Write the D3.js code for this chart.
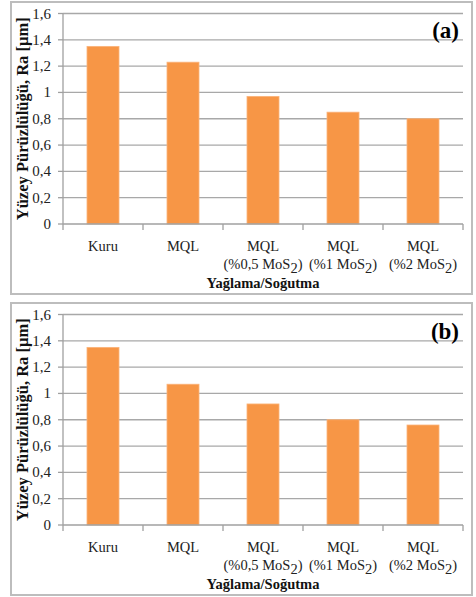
<!DOCTYPE html>
<html>
<head>
<meta charset="utf-8">
<script src="https://cdn.jsdelivr.net/npm/d3@7"></script>
<style>
body { margin: 0; background: #fff; }
text { font-family: "Liberation Serif", "DejaVu Serif", serif; }
</style>
</head>
<body>
<svg id="chart" width="476" height="597"></svg>
<script>
// data
var categories = ["Kuru", "MQL", "MQL|(%0,5 MoS", "MQL|(%1 MoS", "MQL|(%2 MoS"];
var valuesA = [1.35, 1.23, 0.97, 0.85, 0.80];
var valuesB = [1.35, 1.07, 0.92, 0.80, 0.76];
var yTicks = [0, 0.2, 0.4, 0.6, 0.8, 1, 1.2, 1.4, 1.6];

var svg = d3.select("#chart");
var fmt = function(d) { return String(d).replace(".", ","); };

function drawPanel(values, label, top) {
    var g = svg.append("g").attr("transform", "translate(0," + top + ")");

    g.append("rect")
        .attr("x", 11).attr("y", 1)
        .attr("width", 461).attr("height", 292)
        .attr("fill", "#fff")
        .attr("stroke", "#bdbdbd")
        .attr("stroke-width", 2);

    var x = d3.scaleBand().domain(d3.range(categories.length)).range([63, 463]).paddingInner(0.6).paddingOuter(0.3);
    var xs = d3.scaleLinear().domain([0, categories.length]).range([63, 463]);
    var y = d3.scaleLinear().domain([0, 1.6]).range([223, 12.5]);

    // gridlines
    g.selectAll("line.grid")
        .data(yTicks.slice(1))
        .join("line")
        .attr("class", "grid")
        .attr("x1", 63).attr("x2", 463)
        .attr("y1", d => y(d)).attr("y2", d => y(d))
        .attr("stroke", "#a8a8a8")
        .attr("stroke-width", 1.3);

    // y axis
    g.append("line")
        .attr("x1", 63).attr("x2", 63)
        .attr("y1", y(1.6)).attr("y2", y(0))
        .attr("stroke", "#a0a0a0").attr("stroke-width", 1.3);
    g.selectAll("line.ytick")
        .data(yTicks)
        .join("line")
        .attr("class", "ytick")
        .attr("x1", 58).attr("x2", 63)
        .attr("y1", d => y(d)).attr("y2", d => y(d))
        .attr("stroke", "#a0a0a0").attr("stroke-width", 1.3);
    g.selectAll("text.ytl")
        .data(yTicks)
        .join("text")
        .attr("class", "ytl")
        .attr("x", 51)
        .attr("y", d => y(d) + 5)
        .attr("text-anchor", "end")
        .attr("font-size", 15)
        .attr("fill", "#222")
        .text(fmt);

    // bars
    g.selectAll("rect.bar")
        .data(values)
        .join("rect")
        .attr("class", "bar")
        .attr("x", (d, i) => x(i))
        .attr("width", x.bandwidth())
        .attr("y", d => y(d))
        .attr("height", d => y(0) - y(d))
        .attr("fill", "#f79646")
        .attr("stroke", "#fbb37a")
        .attr("stroke-width", 0.8);

    // x axis
    g.append("line")
        .attr("x1", 63).attr("x2", 463)
        .attr("y1", y(0)).attr("y2", y(0))
        .attr("stroke", "#a0a0a0").attr("stroke-width", 1.3);
    g.selectAll("line.xtick")
        .data(d3.range(categories.length + 1))
        .join("line")
        .attr("class", "xtick")
        .attr("x1", d => xs(d)).attr("x2", d => xs(d))
        .attr("y1", y(0)).attr("y2", y(0) + 6)
        .attr("stroke", "#a0a0a0").attr("stroke-width", 1.3);

    var cl = g.selectAll("text.xtl")
        .data(categories)
        .join("text")
        .attr("class", "xtl")
        .attr("text-anchor", "middle")
        .attr("font-size", 14.5)
        .attr("fill", "#222");
    cl.each(function(d, i) {
        var t = d3.select(this);
        var cx = x(i) + x.bandwidth() / 2;
        var parts = d.split("|");
        t.append("tspan").attr("x", cx).attr("y", 250).text(parts[0]);
        if (parts.length > 1) {
            var t2 = t.append("tspan").attr("x", cx).attr("y", 268);
            t2.append("tspan").text(parts[1]);
            t2.append("tspan").attr("dy", 4).text("2");
            t2.append("tspan").attr("dy", -4).text(")");
        }
    });

    g.append("text")
        .attr("x", 263).attr("y", 287)
        .attr("text-anchor", "middle")
        .attr("font-size", 14.5)
        .attr("font-weight", "bold")
        .attr("fill", "#111")
        .text("Yağlama/Soğutma");

    g.append("text")
        .attr("transform", "translate(28," + ((y(0) + y(1.6)) / 2) + ") rotate(-90)")
        .attr("text-anchor", "middle")
        .attr("font-size", 16.5)
        .attr("font-weight", "bold")
        .attr("fill", "#111")
        .text("Yüzey Pürüzlülüğü, Ra [µm]");

    g.append("text")
        .attr("x", 459).attr("y", 37)
        .attr("text-anchor", "end")
        .attr("font-size", 23)
        .attr("font-weight", "bold")
        .attr("fill", "#000")
        .text(label);
}

drawPanel(valuesA, "(a)", 1);
drawPanel(valuesB, "(b)", 302);
</script>
</body>
</html>
